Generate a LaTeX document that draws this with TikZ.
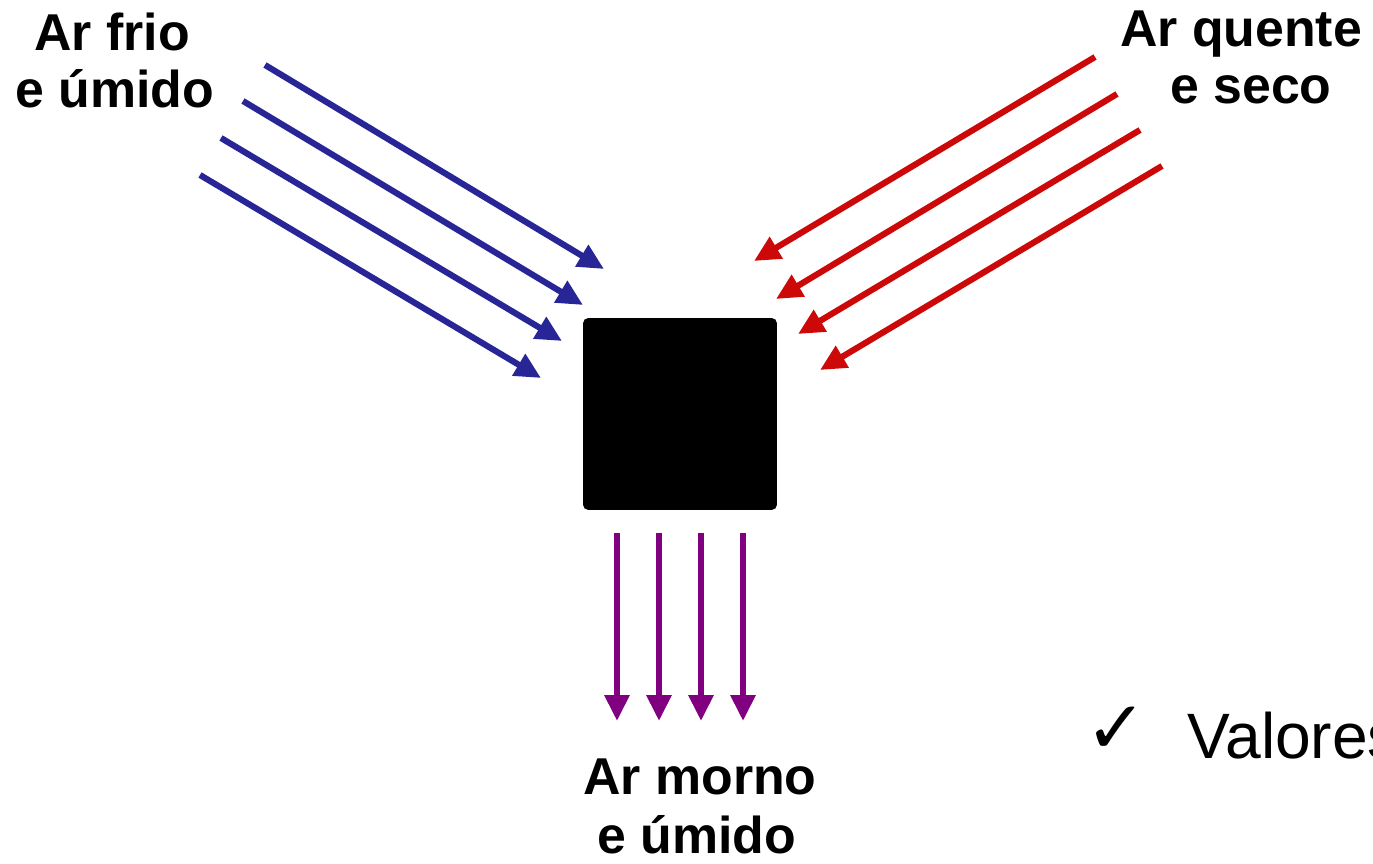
\documentclass[tikz,border=0pt]{standalone}
\usepackage{fontspec}
\setmainfont{Liberation Sans}
\newfontfamily\symfont{DejaVu Sans}
\usetikzlibrary{arrows.meta}

\definecolor{coldblue}{RGB}{40,38,150}
\definecolor{hotred}{RGB}{205,8,8}
\definecolor{mixpurple}{RGB}{128,0,128}

\begin{document}
\begin{tikzpicture}[x=0.02cm,y=-0.02cm,
  flow/.style={line width=3.5pt,-{Triangle[length=0.52cm,width=0.48cm]}},
  coldflow/.style={flow,draw=coldblue,fill=coldblue},
  hotflow/.style={flow,draw=hotred,fill=hotred},
  mixflow/.style={flow,draw=mixpurple,fill=mixpurple},
  lbl/.style={font=\bfseries\fontsize{29.5}{34}\selectfont,inner sep=0pt,anchor=base},
  bullet/.style={font=\fontsize{36.5}{40}\selectfont,inner sep=0pt,anchor=base west},
  tick/.style={font=\symfont\fontsize{42}{46}\selectfont,inner sep=0pt}
]
\useasboundingbox[fill=white] (0,0) rectangle (1373,864);

% the mixing chamber
\node[fill=black,rounded corners=3pt,minimum width=3.88cm,minimum height=3.84cm,inner sep=0pt] (box) at (680,414) {};

% cold, humid air coming in from the upper left
\coordinate (b1s) at (265,65);  \coordinate (b1e) at (604,269);
\coordinate (b2s) at (243,101); \coordinate (b2e) at (583,305);
\coordinate (b3s) at (221,138); \coordinate (b3e) at (562,341);
\coordinate (b4s) at (200,175); \coordinate (b4e) at (541,378);
\foreach \i in {1,...,4} \draw[coldflow] (b\i s) -- (b\i e);

% hot, dry air coming in from the upper right
\coordinate (r1s) at (1095,57);  \coordinate (r1e) at (754,261);
\coordinate (r2s) at (1117,94);  \coordinate (r2e) at (776,299);
\coordinate (r3s) at (1140,130); \coordinate (r3e) at (798,334);
\coordinate (r4s) at (1162,166); \coordinate (r4e) at (820,370);
\foreach \i in {1,...,4} \draw[hotflow] (r\i s) -- (r\i e);

% warm, humid air leaving downwards
\foreach \i/\x in {1/617,2/659,3/701,4/743}{
  \coordinate (p\i s) at (\x,533);
  \coordinate (p\i e) at (\x,721);
  \draw[mixflow] (p\i s) -- (p\i e);
}

% labels
\node[lbl] (frioA) at (112,51) {Ar frio};
\node[lbl] (frioB) at (115,108) {e úmido};
\node[lbl] (quenteA) at (1241,47) {Ar quente};
\node[lbl] (quenteB) at (1251,104) {e seco};
\node[lbl] (mornoA) at (700,794) {Ar morno};
\node[lbl] (mornoB) at (697,853) {e úmido};

% bullet list
\node[tick] (tick1) at (1116,730) {✓};
\node[bullet] (val) at (1187,758) {Valores};
\node[tick] (tick2) at (1116,893) {✓};
\end{tikzpicture}
\end{document}
